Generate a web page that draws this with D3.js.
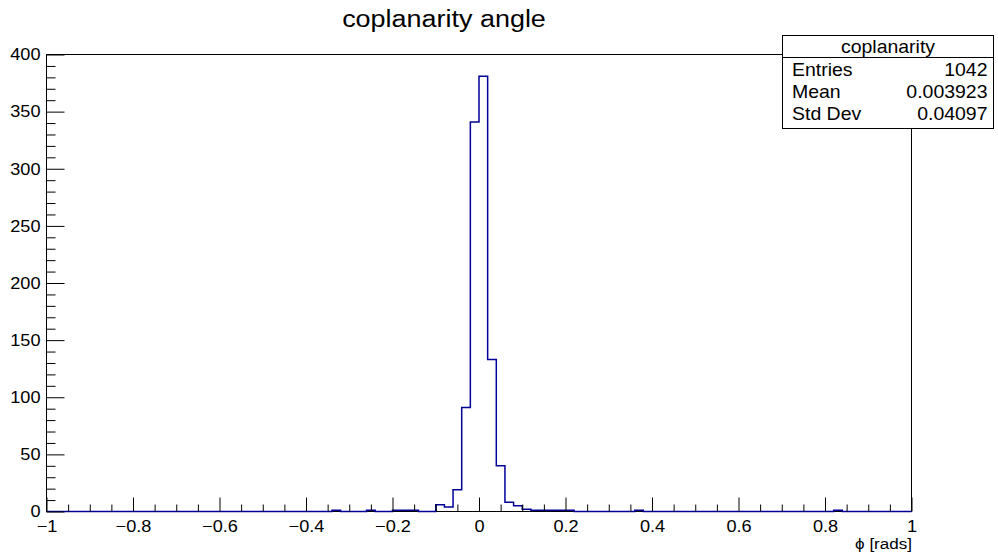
<!DOCTYPE html>
<html>
<head>
<meta charset="utf-8">
<script src="https://cdn.jsdelivr.net/npm/d3@7"></script>
<style>
  html, body { margin: 0; padding: 0; background: #fff; }
  svg { display: block; }
  text { font-family: "Liberation Sans", Arial, Helvetica, sans-serif; fill: #000; }
</style>
</head>
<body>
<svg id="chart" width="998" height="553"></svg>
<script>
// Histogram definition: 100 bins of width 0.02 over [-1, 1]
const xMin = -1;
const xMax = 1;
const nBins = 100;
const counts = [
  0,0,0,0,0,0,0,0,0,0,  0,0,0,0,0,0,0,0,0,0,
  0,0,0,0,0,0,0,0,0,0,  0,0,0,1,0,0,0,1,0,0,
  1,1,1,0,0,6,4,19,91,341,
  381,133,40,8,5,2,1,1,1,1,
  1,0,0,0,0,0,0,0,1,0,  0,0,0,0,0,0,0,0,0,0,
  0,0,0,0,0,0,0,0,0,0,  0,1,0,0,0,0,0,0,0,0
];
const yMajorTicks = [0, 50, 100, 150, 200, 250, 300, 350, 400];
const xMajorTicks = [-1, -0.8, -0.6, -0.4, -0.2, 0, 0.2, 0.4, 0.6, 0.8, 1];
const chartTitle = "coplanarity angle";
const xAxisTitle = "ϕ [rads]";
const statsTitle = "coplanarity";
const statsLabels = ["Entries", "Mean", "Std Dev"];
const statsValues = ["1042", "0.003923", "0.04097"];

const STRETCH = 1.1;   // glyphs are a little wider than tall
const svg = d3.select("#chart");
svg.append("rect").attr("width", 998).attr("height", 553).attr("fill", "#fff");

const frame = { left: 46.5, right: 911.5, top: 54.5, bottom: 511.5 };
const x = d3.scaleLinear().domain([xMin, xMax]).range([frame.left, frame.right]);
const y = d3.scaleLinear().domain([0, 400]).range([frame.bottom, frame.top]);
const binW = (xMax - xMin) / nBins;

function stretchText(sel, anchorX) {
  sel.attr("x", 0).attr("transform", `translate(${anchorX},0) scale(${STRETCH},1)`);
}

// Frame
svg.append("rect")
  .attr("x", frame.left).attr("y", frame.top)
  .attr("width", frame.right - frame.left).attr("height", frame.bottom - frame.top)
  .attr("fill", "none").attr("stroke", "#000").attr("stroke-width", 1);

// Histogram outline
const pts = [[xMin, 0]];
counts.forEach((c, i) => pts.push([xMin + i * binW, c]));
pts.push([xMax, counts[counts.length - 1]]);
pts.push([xMax, 0]);
const line = d3.line()
  .x(d => x(d[0])).y(d => y(d[1]))
  .curve(d3.curveStepAfter);
svg.append("path")
  .attr("d", line(pts))
  .attr("fill", "none")
  .attr("stroke", "#000099")
  .attr("stroke-width", 1.5);

// Y axis (ticks pointing inward)
const yMinor = d3.range(0, 401, 10).filter(v => v % 50 !== 0);
svg.append("g")
  .attr("transform", `translate(${frame.left},0)`)
  .call(d3.axisLeft(y).tickValues(yMinor).tickSizeInner(-9).tickSizeOuter(0).tickFormat(""))
  .call(g => g.select(".domain").remove());
const yAx = svg.append("g")
  .attr("transform", `translate(${frame.left},0)`)
  .call(d3.axisLeft(y).tickValues(yMajorTicks).tickSizeInner(-18).tickSizeOuter(0).tickPadding(6)
    .tickFormat(d3.format("d")))
  .call(g => g.select(".domain").remove());
yAx.selectAll("text")
  .attr("font-size", 16.5)
  .attr("font-family", "Liberation Sans, Arial, sans-serif")
  .call(s => stretchText(s, -6));
yAx.selectAll("line").attr("stroke", "#000");

// X axis (ticks pointing inward)
const xMinor = d3.range(-20, 21).map(k => k * 0.05).filter(v => Math.abs(Math.round(v * 100)) % 20 !== 0);
svg.append("g")
  .attr("transform", `translate(0,${frame.bottom})`)
  .call(d3.axisBottom(x).tickValues(xMinor).tickSizeInner(-7).tickSizeOuter(0).tickFormat(""))
  .call(g => g.select(".domain").remove());
const xAx = svg.append("g")
  .attr("transform", `translate(0,${frame.bottom})`)
  .call(d3.axisBottom(x).tickValues(xMajorTicks).tickSizeInner(-14).tickSizeOuter(0).tickPadding(9)
    .tickFormat(d3.format("~g")))
  .call(g => g.select(".domain").remove());
xAx.selectAll("text")
  .attr("font-size", 16.5)
  .attr("font-family", "Liberation Sans, Arial, sans-serif")
  .call(s => stretchText(s, 0));

// Axis title
svg.append("text")
  .attr("y", 549)
  .attr("font-size", 15.5)
  .attr("text-anchor", "end")
  .text(xAxisTitle)
  .call(s => stretchText(s, 912));

// Chart title
svg.append("text")
  .attr("y", 27)
  .attr("font-size", 24.5)
  .attr("text-anchor", "middle")
  .text(chartTitle)
  .call(s => stretchText(s, 444));

// Statistics box
const box = { left: 782.5, right: 993.5, top: 35.5, divider: 57.5, bottom: 128.5 };
const stats = svg.append("g");
stats.append("rect")
  .attr("x", box.left).attr("y", box.top)
  .attr("width", box.right - box.left).attr("height", box.bottom - box.top)
  .attr("fill", "#fff").attr("stroke", "#000").attr("stroke-width", 1);
stats.append("line")
  .attr("x1", box.left).attr("x2", box.right)
  .attr("y1", box.divider).attr("y2", box.divider)
  .attr("stroke", "#000");
stats.append("text")
  .attr("y", 53).attr("font-size", 17.7).attr("text-anchor", "middle")
  .text(statsTitle)
  .call(s => stretchText(s, (box.left + box.right) / 2));
const rowY = [76, 98.5, 120.5];
statsLabels.forEach((lab, i) => {
  stats.append("text")
    .attr("y", rowY[i]).attr("font-size", 17.7)
    .text(lab)
    .call(s => stretchText(s, 792));
  stats.append("text")
    .attr("y", rowY[i]).attr("font-size", 17.7).attr("text-anchor", "end")
    .text(statsValues[i])
    .call(s => stretchText(s, 987.5));
});
</script>
</body>
</html>
